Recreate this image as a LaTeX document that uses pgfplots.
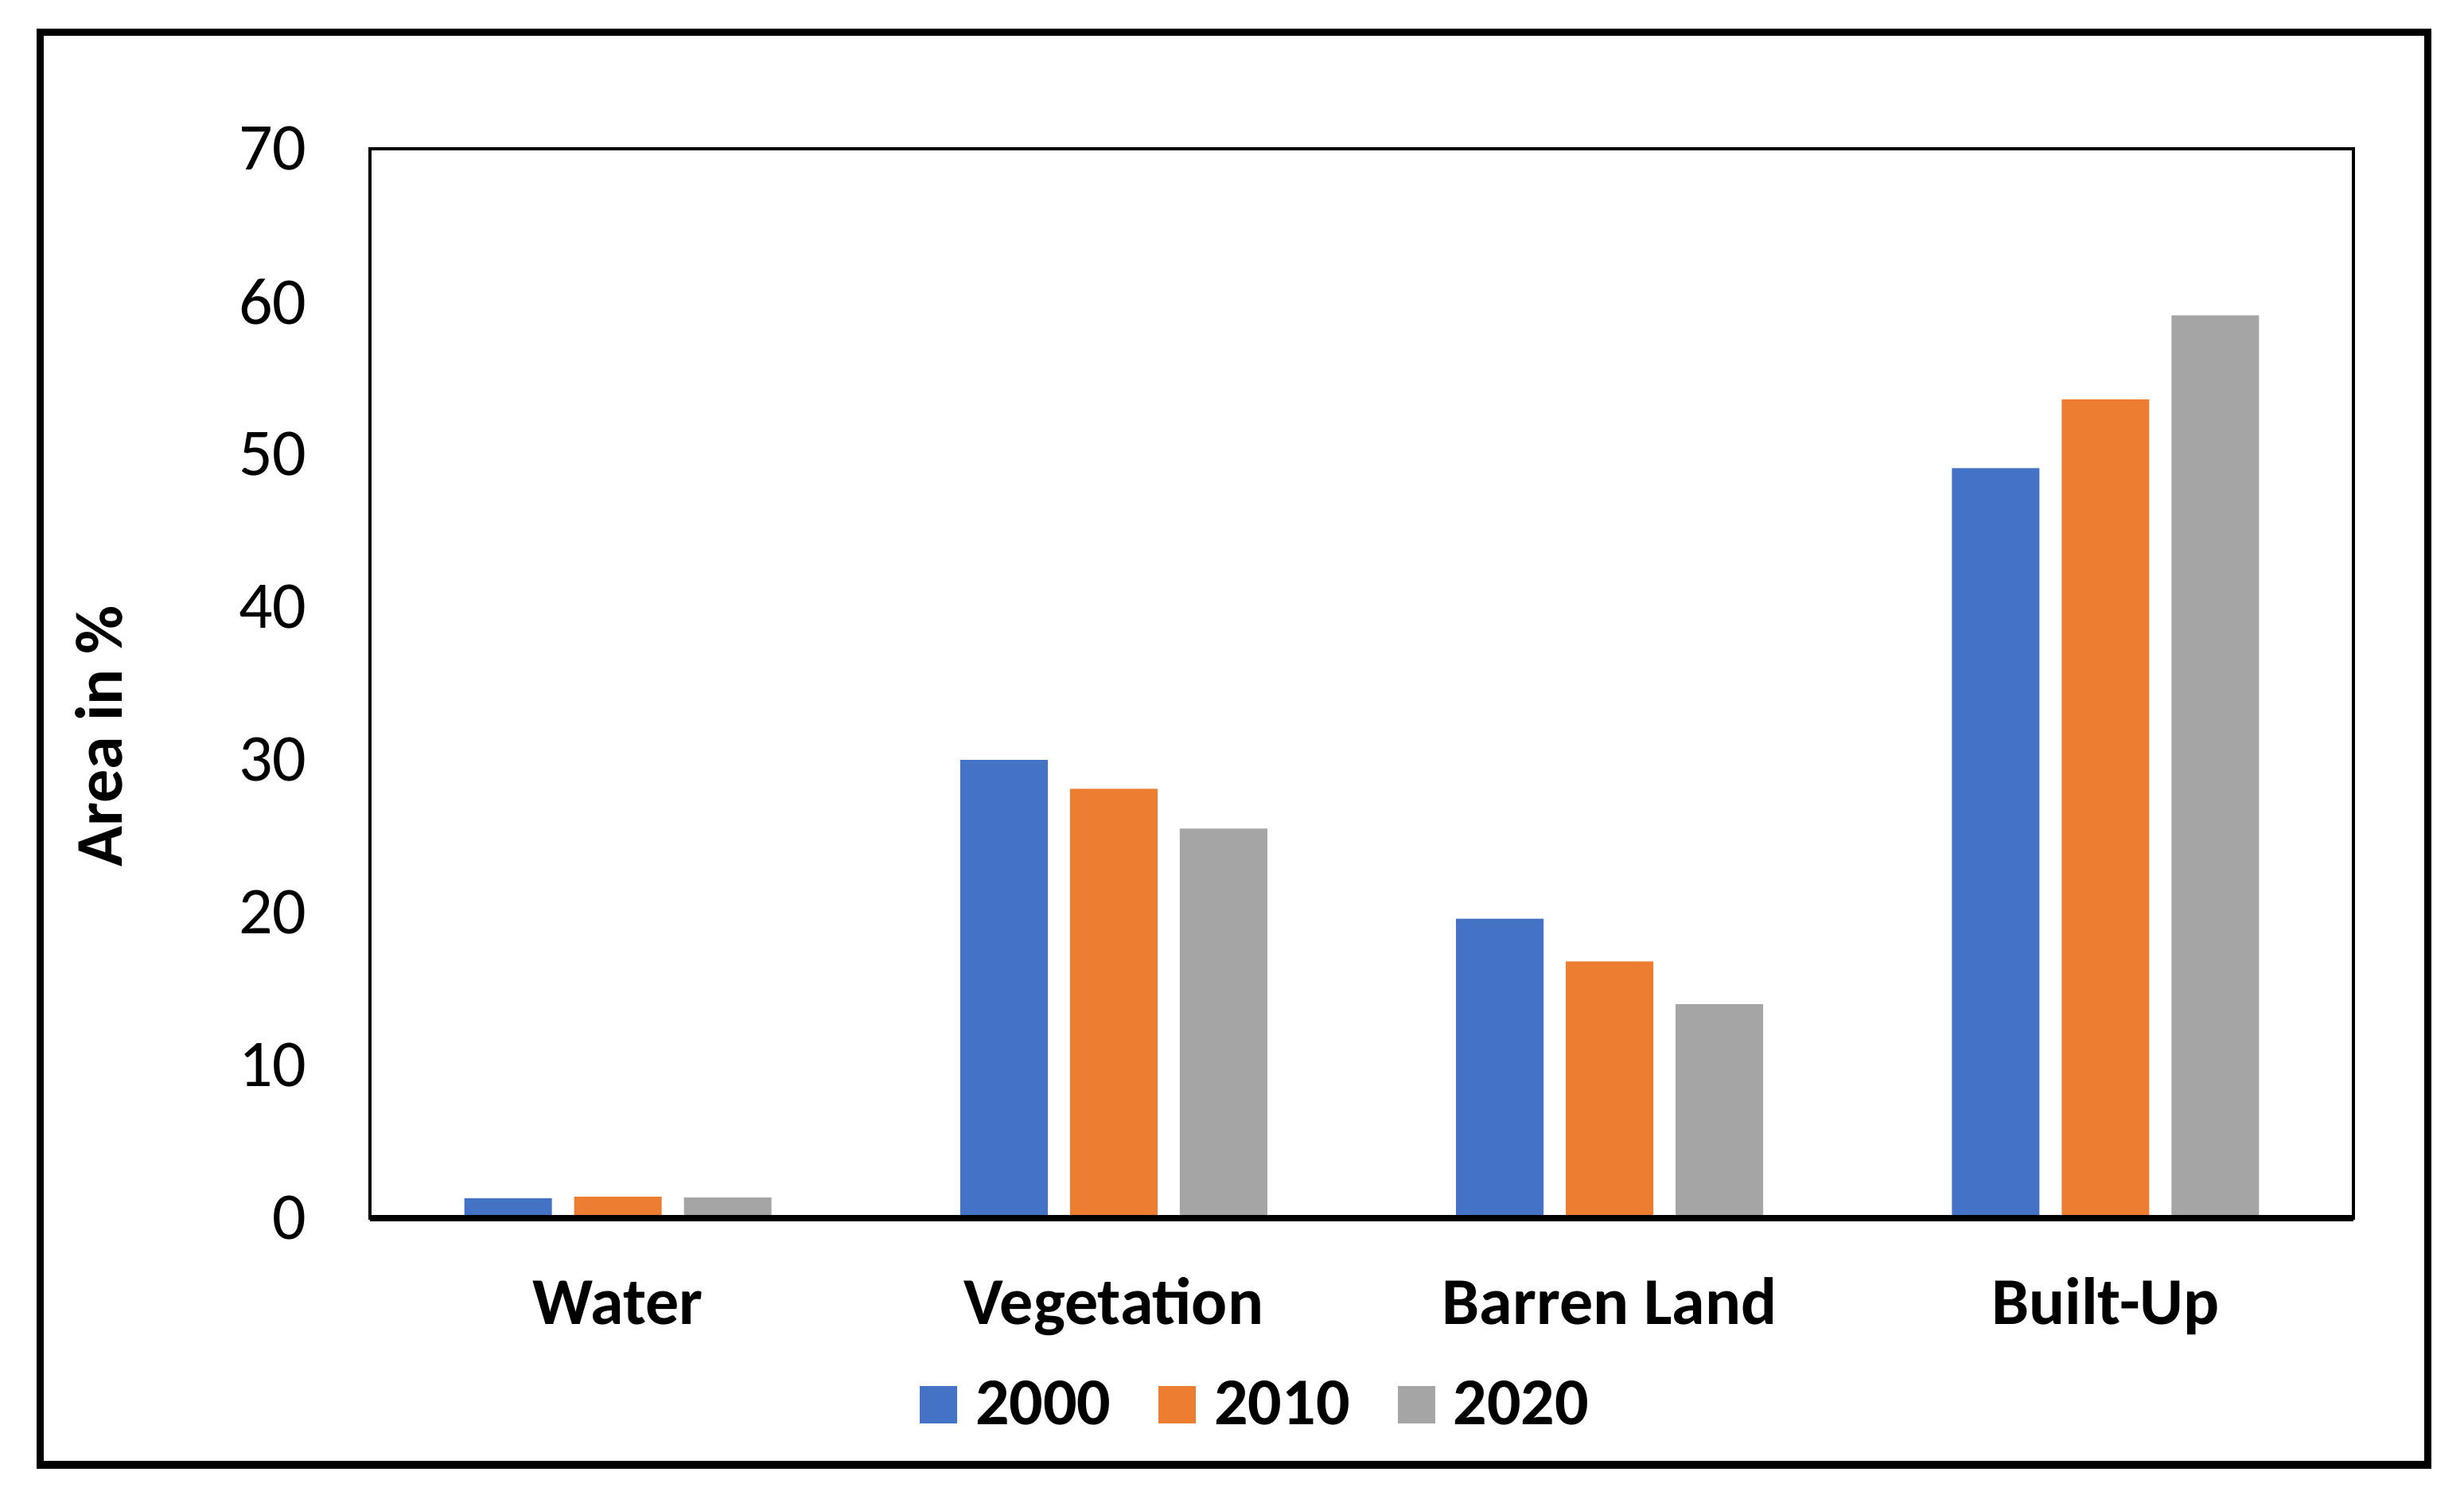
\documentclass[border=0pt]{standalone}
\usepackage{pgfplots}
\pgfplotsset{compat=1.18}
\usepackage{fontspec}
\setmainfont{Carlito}
\definecolor{c2000}{HTML}{4472C4}
\definecolor{c2010}{HTML}{ED7D31}
\definecolor{c2020}{HTML}{A5A5A5}
\begin{document}
\begin{tikzpicture}[x=1pt,y=1pt]
\useasboundingbox (0,0) rectangle (774.25,472);
\draw[line width=2.4pt] (12.625,11.75) rectangle (762.875,461.875);
\begin{axis}[
  at={(116.25pt,89.25pt)}, anchor=south west,
  width=623.25pt, height=336pt, scale only axis,
  xmin=-0.5, xmax=3.5, ymin=0, ymax=70,
  ybar=7pt, bar width=27.5pt,
  xtick={0,1,2,3},
  xticklabels={Water,Vegetation,Barren Land,Built-Up},
  ytick={0,10,...,70},
  major tick length=0pt,
  axis line style={line width=0.8pt},
  clip=false,
  every axis plot/.append style={draw=none},
  tick label style={font=\fontsize{21}{25}\selectfont},
  xticklabel style={font=\fontsize{21}{25}\selectfont\bfseries, anchor=base, inner sep=0pt, yshift=-33.25pt},
  yticklabel style={anchor=east, inner sep=0pt, xshift=-19.75pt},
  /pgf/number format/assume math mode=true,
  legend columns=3,
  legend style={draw=none, fill=none, inner sep=0pt, outer sep=0pt,
    at={(0.2772,-0.1746)}, anchor=west,
    font=\fontsize{21}{25}\selectfont\bfseries,
    nodes={inner sep=0pt},
    /tikz/every odd column/.append style={column sep=5.75pt},
    /tikz/every even column/.append style={column sep=15pt}},
  legend image code/.code={\fill[#1] (0pt,-5.875pt) rectangle (11.75pt,5.875pt);},
]
\addplot[fill=c2000] coordinates {(0,1.3) (1,30.0) (2,19.6) (3,49.1)};
\addplot[fill=c2010] coordinates {(0,1.4) (1,28.1) (2,16.8) (3,53.6)};
\addplot[fill=c2020] coordinates {(0,1.35) (1,25.5) (2,14.0) (3,59.1)};
\legend{2000,2010,2020}
\draw[line width=1.8pt] (axis cs:-0.5,0) -- (axis cs:3.5,0);
\end{axis}
\node[rotate=90, anchor=base, font=\fontsize{21}{25}\selectfont\bfseries] at (38.25,240.75) {Area in \%};
\end{tikzpicture}
\end{document}
